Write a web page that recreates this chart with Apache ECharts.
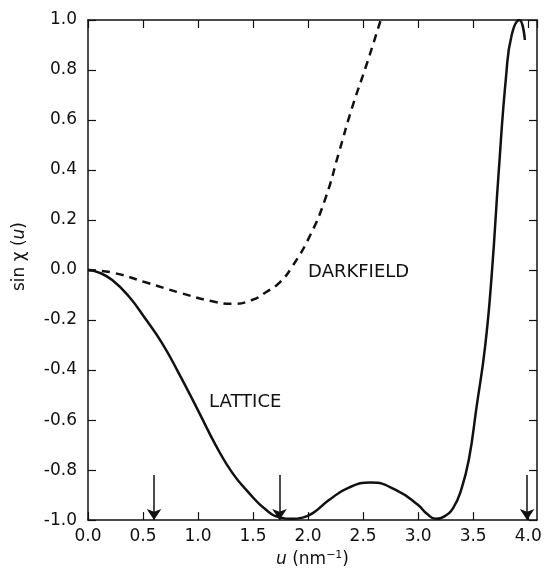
<!DOCTYPE html>
<html>
<head>
    <meta charset="utf-8" />
    <title>sin chi(u)</title>
    <script src="https://cdn.jsdelivr.net/npm/echarts@6/dist/echarts.min.js"></script>
    <style>
        body { margin: 0; padding: 0; background: #fff; }
        #main { width: 546px; height: 573px; }
    </style>
</head>
<body>
<div id="main"></div>
<script type="text/javascript">
    // u (nm^-1) and sin chi(u)
    const latticeU = [0, 0.1, 0.22, 0.37, 0.53, 0.67, 0.81, 1.01, 1.16, 1.31, 1.46, 1.62, 1.75, 1.85, 1.95, 2.05,
        2.19, 2.37, 2.57, 2.8, 3.0, 3.08, 3.16, 3.24, 3.32, 3.39, 3.46, 3.53, 3.61, 3.67, 3.73, 3.8, 3.85, 3.92, 3.97];
    const latticeV = [0, -0.01, -0.04, -0.105, -0.2, -0.29, -0.4, -0.57, -0.7, -0.81, -0.89, -0.96, -0.99, -0.995, -0.99, -0.97,
        -0.92, -0.87, -0.85, -0.88, -0.94, -0.975, -0.995, -0.985, -0.95, -0.88, -0.76, -0.55, -0.3, -0.01, 0.38, 0.78, 0.94, 1.0, 0.92];

    const darkU = [0, 0.22, 0.53, 0.83, 1.13, 1.31, 1.49, 1.62, 1.74, 1.85, 2.02, 2.16, 2.28, 2.4, 2.53, 2.66];
    const darkV = [0, -0.01, -0.05, -0.09, -0.125, -0.135, -0.12, -0.088, -0.05, 0.01, 0.14, 0.29, 0.47, 0.65, 0.82, 1.0];

    // arrows marking the zeros
    const arrowU = [0.6, 1.74, 3.99];
    const arrowTop = -0.82;

    const xTicks = [0, 0.5, 1.0, 1.5, 2.0, 2.5, 3.0, 3.5, 4.0];
    const yTicks = [-1.0, -0.8, -0.6, -0.4, -0.2, 0.0, 0.2, 0.4, 0.6, 0.8, 1.0];

    const font = 'DejaVu Sans';
    const ink = '#111';

    const zip = (a, b) => a.map((v, i) => [v, b[i]]);

    var myChart = echarts.init(document.getElementById('main'));

    const axisCommon = {
        axisLine: { show: true, onZero: false, lineStyle: { color: ink, width: 1.5 } },
        axisTick: { show: true, inside: true, length: 8, lineStyle: { color: ink, width: 1.2 } },
        splitLine: { show: false }
    };

    var option = {
        backgroundColor: '#fff',
        animation: false,
        grid: { left: 88, right: 9, top: 20, bottom: 43 },
        xAxis: [
            Object.assign({
                type: 'value', min: xTicks[0], max: 4.08, interval: 0.5, position: 'bottom',
                axisLabel: {
                    color: ink, fontFamily: font, fontSize: 17, margin: 8, showMaxLabel: false,
                    formatter: v => xTicks.includes(v) ? v.toFixed(1) : ''
                },
                name: '{i|u} (nm{s|−1})',
                nameLocation: 'middle',
                nameGap: 29,
                nameTextStyle: {
                    color: ink, fontFamily: font, fontSize: 17,
                    rich: {
                        i: { fontStyle: 'italic', fontFamily: font, fontSize: 17, color: ink },
                        s: { fontSize: 11, fontFamily: font, color: ink, verticalAlign: 'top', padding: [0, 0, 8, 0] }
                    }
                }
            }, axisCommon),
            Object.assign({
                type: 'value', min: xTicks[0], max: 4.08, interval: 0.5, position: 'top',
                axisLabel: { show: false }
            }, axisCommon)
        ],
        yAxis: [
            Object.assign({
                type: 'value', min: yTicks[0], max: yTicks[yTicks.length - 1], interval: 0.2, position: 'left',
                axisLabel: {
                    color: ink, fontFamily: font, fontSize: 17, margin: 11,
                    formatter: v => v.toFixed(1)
                }
            }, axisCommon),
            Object.assign({
                type: 'value', min: yTicks[0], max: yTicks[yTicks.length - 1], interval: 0.2, position: 'right',
                axisLabel: { show: false }
            }, axisCommon)
        ],
        graphic: [{
            type: 'text',
            left: 11,
            top: 222,
            rotation: Math.PI / 2,
            style: {
                text: '{n|sin χ (}{i|u}{n|)}',
                rich: {
                    n: { fontFamily: font, fontSize: 17, fill: ink, color: ink },
                    i: { fontFamily: font, fontSize: 17, fontStyle: 'italic', fill: ink, color: ink }
                }
            }
        }],
        series: [
            {
                name: 'LATTICE',
                type: 'line',
                data: zip(latticeU, latticeV),
                smooth: 0.5,
                showSymbol: false,
                lineStyle: { color: ink, width: 2.5 },
                markLine: {
                    silent: true,
                    symbol: ['none', 'arrow'],
                    symbolSize: 11,
                    label: { show: false },
                    lineStyle: { color: ink, width: 1.5, type: 'solid' },
                    data: arrowU.map(u => [{ coord: [u, arrowTop] }, { coord: [u, -1] }])
                },
                markPoint: {
                    symbol: 'circle',
                    symbolSize: 0,
                    label: { show: true, position: 'right', distance: 0, color: ink, fontFamily: font, fontSize: 18 },
                    data: [{ coord: [1.1, -0.53], value: 'LATTICE', label: { formatter: 'LATTICE' } }]
                }
            },
            {
                name: 'DARKFIELD',
                type: 'line',
                data: zip(darkU, darkV),
                smooth: 0.5,
                showSymbol: false,
                lineStyle: { color: ink, width: 2.5, type: [8, 6] },
                markPoint: {
                    symbol: 'circle',
                    symbolSize: 0,
                    label: { show: true, position: 'right', distance: 0, color: ink, fontFamily: font, fontSize: 18 },
                    data: [{ coord: [2.0, -0.01], value: 'DARKFIELD', label: { formatter: 'DARKFIELD' } }]
                }
            }
        ]
    };

    myChart.setOption(option);
</script>
</body>
</html>
